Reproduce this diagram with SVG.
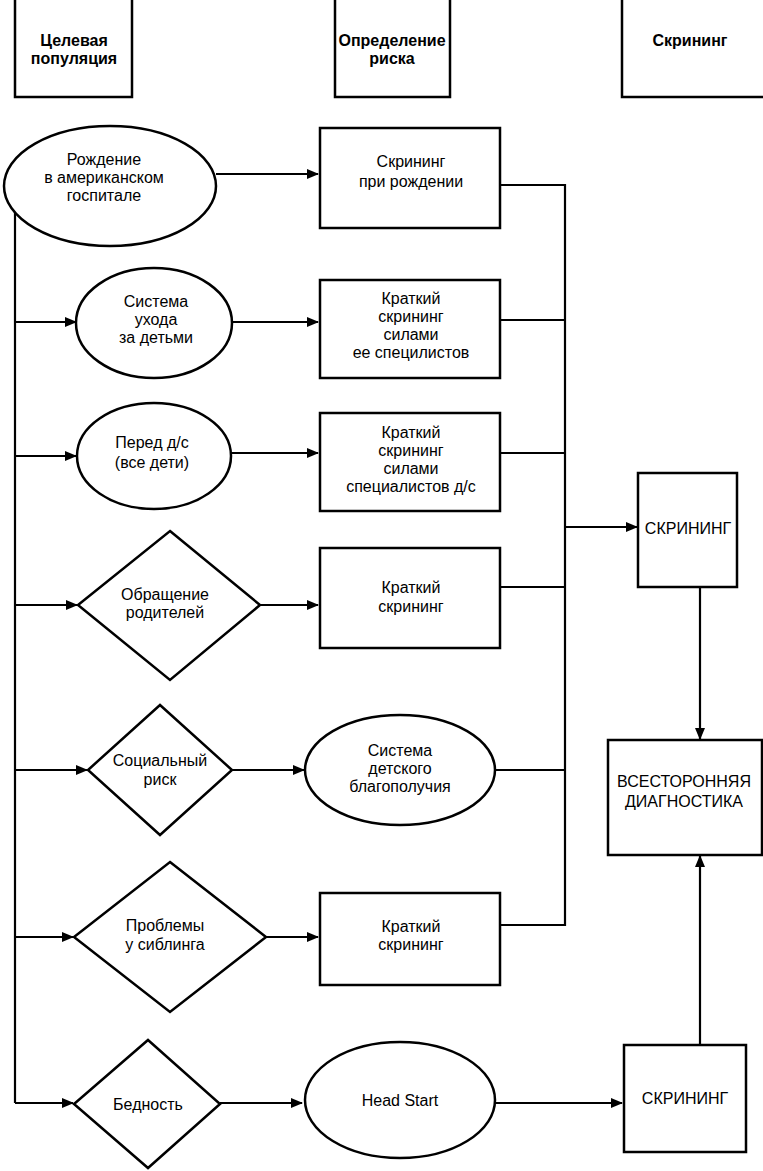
<svg xmlns="http://www.w3.org/2000/svg" width="763" height="1171" viewBox="0 0 763 1171">
<style>
.s{fill:#fff;stroke:#000;stroke-width:2.5}
.c{fill:none;stroke:#000;stroke-width:2.2}
text{font-family:"Liberation Sans","DejaVu Sans",sans-serif;font-size:16px;text-anchor:middle;fill:#000}
.b{font-weight:bold}
</style>
<defs><marker id="a" markerWidth="12" markerHeight="10" refX="11" refY="5" orient="auto" markerUnits="userSpaceOnUse"><path d="M0,0L12,5L0,10z" fill="#000"/></marker></defs>
<rect width="763" height="1171" fill="#fff"/>
<g id="h1"><rect class="s" x="15" y="-2" width="117" height="99"/><text class="b" x="74" y="46">Целевая</text><text class="b" x="74" y="64">популяция</text></g>
<g id="h2"><rect class="s" x="335" y="-2" width="115" height="99"/><text class="b" x="392" y="46">Определение</text><text class="b" x="392" y="64">риска</text></g>
<g id="h3"><rect class="s" x="622" y="-2" width="143" height="99"/><text class="b" x="690" y="46">Скрининг</text></g>
<g id="connectors">
<path class="c" d="M15,210V1103"/>
<path class="c" marker-end="url(#a)" d="M216,174H318"/>
<path class="c" marker-end="url(#a)" d="M15,322H76"/>
<path class="c" marker-end="url(#a)" d="M15,456H76"/>
<path class="c" marker-end="url(#a)" d="M15,605H77"/>
<path class="c" marker-end="url(#a)" d="M15,770H87"/>
<path class="c" marker-end="url(#a)" d="M15,937H73"/>
<path class="c" marker-end="url(#a)" d="M15,1103H73"/>
<path class="c" marker-end="url(#a)" d="M232,322H318"/>
<path class="c" marker-end="url(#a)" d="M231,453H318"/>
<path class="c" marker-end="url(#a)" d="M260,605H318"/>
<path class="c" marker-end="url(#a)" d="M232,770H304"/>
<path class="c" marker-end="url(#a)" d="M266,937H318"/>
<path class="c" marker-end="url(#a)" d="M220,1103H302"/>
<path class="c" d="M500,185H565V925H500M500,320H565M500,453H565M500,587H565M495,770H565"/>
<path class="c" marker-end="url(#a)" d="M565,527H637"/>
<path class="c" marker-end="url(#a)" d="M700,587V739"/>
<path class="c" marker-end="url(#a)" d="M700,1045V856"/>
<path class="c" marker-end="url(#a)" d="M495,1103H622"/>
</g>
<g id="n1"><ellipse class="s" cx="110" cy="186" rx="106" ry="60"/><text x="104" y="165">Рождение</text><text x="104" y="183">в американском</text><text x="104" y="201">госпитале</text></g>
<g id="b1"><rect class="s" x="320" y="128" width="180" height="100"/><text x="411" y="167">Скрининг</text><text x="411" y="187">при рождении</text></g>
<g id="n2"><ellipse class="s" cx="154" cy="323" rx="78" ry="55"/><text x="156" y="307">Система</text><text x="156" y="325">ухода</text><text x="156" y="343">за детьми</text></g>
<g id="b2"><rect class="s" x="320" y="280" width="180" height="98"/><text x="411" y="304">Краткий</text><text x="411" y="322">скрининг</text><text x="411" y="340">силами</text><text x="411" y="358">ее специлистов</text></g>
<g id="n3"><ellipse class="s" cx="154" cy="456" rx="77" ry="53"/><text x="152" y="448">Перед д/с</text><text x="152" y="468">(все дети)</text></g>
<g id="b3"><rect class="s" x="320" y="413" width="180" height="98"/><text x="411" y="438">Краткий</text><text x="411" y="456">скрининг</text><text x="411" y="474">силами</text><text x="411" y="492">специалистов д/с</text></g>
<g id="n4"><polygon class="s" points="170,531 260,605 170,680 78,605"/><text x="165" y="600">Обращение</text><text x="165" y="618">родителей</text></g>
<g id="b4"><rect class="s" x="320" y="548" width="180" height="100"/><text x="411" y="593">Краткий</text><text x="411" y="612">скрининг</text></g>
<g id="n5"><polygon class="s" points="160,705 232,770 160,835 88,770"/><text x="160" y="766">Социальный</text><text x="160" y="785">риск</text></g>
<g id="e5"><ellipse class="s" cx="400" cy="770" rx="95" ry="55"/><text x="400" y="756">Система</text><text x="400" y="774">детского</text><text x="400" y="792">благополучия</text></g>
<g id="n6"><polygon class="s" points="170,862 266,937 170,1012 74,937"/><text x="165" y="931">Проблемы</text><text x="165" y="950">у сиблинга</text></g>
<g id="b6"><rect class="s" x="320" y="893" width="180" height="92"/><text x="411" y="932">Краткий</text><text x="411" y="950">скрининг</text></g>
<g id="n7"><polygon class="s" points="148,1040 220,1104 148,1168 74,1104"/><text x="148" y="1110">Бедность</text></g>
<g id="e7"><ellipse class="s" cx="400" cy="1100" rx="95" ry="58"/><text x="400" y="1106">Head Start</text></g>
<g id="r1"><rect class="s" x="638" y="473" width="99" height="114"/><text x="688" y="534">СКРИНИНГ</text></g>
<g id="r2"><rect class="s" x="608" y="740" width="154" height="115"/><text x="684" y="787">ВСЕСТОРОННЯЯ</text><text x="684" y="807">ДИАГНОСТИКА</text></g>
<g id="r3"><rect class="s" x="624" y="1045" width="122" height="107"/><text x="685" y="1104">СКРИНИНГ</text></g>
</svg>
